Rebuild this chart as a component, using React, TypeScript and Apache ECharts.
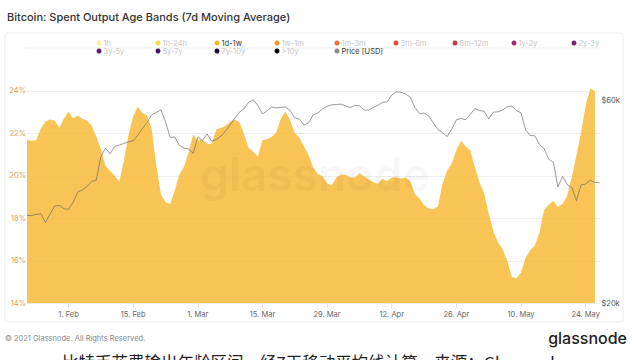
import React, { useEffect, useRef } from "react";
import * as echarts from "echarts";

// ---------- data ----------
const START_DATE = Date.UTC(2021, 0, 23);
const DAY_COUNT = 125; // 23 Jan 2021 .. 27 May 2021
const MONTHS = ["Jan", "Feb", "Mar", "Apr", "May", "Jun", "Jul", "Aug", "Sep", "Oct", "Nov", "Dec"];
const categories: string[] = [];
for (let i = 0; i < DAY_COUNT; i++) {
  const d = new Date(START_DATE + i * 86400000);
  categories.push(d.toISOString().slice(0, 10));
}

// Spent output share of the 1d-1w band, 7d MA (%)
const band1d1w: (number | null)[] = [
  21.7, 21.65, 21.68, 22.23, 22.56, 22.66, 22.6, 22.27, 22.7, 23.02,
  22.7, 22.85, 22.69, 22.61, 22.36, 21.86, 21.26, 20.48, 20.23, 20.01,
  19.72, 20.72, 21.94, 22.81, 23.26, 22.96, 22.84, 22.23, 20.5, 19.13,
  18.77, 18.67, 19.33, 20.05, 20.43, 21.1, 21.95, 21.67, 21.72, 21.52,
  21.5, 22.18, 22.26, 22.36, 22.55, 22.66, 22.53, 21.97, 21.33, 21.14,
  20.9, 21.69, 21.73, 21.83, 22.05, 22.7, 23.03, 22.6, 22.02, 21.8,
  21.39, 20.98, 20.4, 20.09, 19.98, 19.65, 19.55, 19.92, 20.05, 20.05,
  19.93, 19.92, 20.12, 19.99, 19.83, 19.7, 19.63, 19.87, 19.75, 19.92,
  19.94, 19.88, 19.93, 19.75, 19.15, 18.94, 18.63, 18.46, 18.44, 18.55,
  19.63, 20.24, 20.58, 21.22, 21.65, 21.4, 21.2, 20.43, 19.7, 19.2,
  18.23, 17.41, 16.87, 16.56, 16.0, 15.25, 15.17, 15.45, 16.16, 16.5,
  16.72, 17.33, 18.39, 18.64, 18.82, 18.53, 18.68, 19.06, 19.94, 20.95,
  22.04, 23.33, 24.12, 24.0, null,
];

// BTC price (thousand USD)
const priceK: number[] = [
  32.2, 32.2, 32.4, 32.5, 31.0, 32.5, 33.9, 34.0, 33.4, 33.3,
  34.6, 36.6, 37.0, 37.7, 38.7, 39.0, 44.3, 46.4, 45.0, 46.8,
  47.2, 47.6, 48.0, 48.3, 49.8, 51.6, 53.3, 55.6, 56.3, 57.1,
  53.5, 49.2, 49.3, 47.1, 46.4, 46.2, 45.1, 49.2, 48.4, 50.1,
  48.2, 48.6, 49.5, 50.9, 52.6, 54.6, 56.4, 57.4, 59.5, 60.3,
  58.5, 55.9, 56.8, 58.0, 57.7, 57.9, 58.0, 56.9, 54.7, 54.3,
  52.6, 53.2, 55.6, 56.1, 57.4, 58.2, 58.7, 58.8, 58.9, 58.4,
  57.8, 58.5, 58.4, 57.1, 57.0, 57.9, 58.5, 59.5, 59.6, 61.9,
  63.0, 62.8, 62.3, 61.2, 57.9, 56.0, 56.1, 55.3, 53.2, 51.3,
  50.5, 49.4, 51.5, 54.1, 54.5, 54.1, 55.7, 57.5, 56.9, 56.7,
  54.4, 56.4, 56.5, 57.0, 58.1, 58.3, 56.9, 56.2, 51.2, 49.7,
  49.6, 47.3, 46.3, 43.7, 43.0, 37.6, 39.8, 38.1, 37.5, 34.9,
  38.0, 38.2, 39.0, 38.5, 38.5,
];

const leftTicks = [14, 16, 18, 20, 22, 24];
const rightTickPrices = [20000, 60000];

const legendNames = [
  "1h", "1h-24h", "1d-1w", "1w-1m", "1m-3m", "3m-6m", "6m-12m", "1y-2y", "2y-3y",
  "3y-5y", "5y-7y", "7y-10y", ">10y", "Price [USD]",
];
const legendColors = [
  "#FBF29A", "#F6D84C", "#F7B52C", "#F8961E", "#F26B2A", "#E2483E", "#C7354B", "#A62767", "#7E1F7A",
  "#5E1A78", "#3F1468", "#1D0E36", "#000000", "#888888",
];
const activeNames = ["1d-1w", "Price [USD]"];

export default function App() {
  const ref = useRef<HTMLDivElement>(null);

  useEffect(() => {
    if (!ref.current) return;
    const chart = echarts.init(ref.current, null, { renderer: "svg" });
    const FONT = "Inter, 'Noto Sans', sans-serif";
    const labelEvery = (i: number) => (i - 9) % 14 === 0 && i >= 9;

    // legend in fixed columns of two rows
    const colCenters = [99, 158, 217, 277, 337, 396, 455, 514, 574];
    const legends = colCenters.map((cx, k) => {
      const names = [legendNames[k]];
      if (k + 9 < legendNames.length) names.push(legendNames[k + 9]);
      return {
        orient: "vertical",
        left: cx - 2.5,
        top: 39,
        padding: 0,
        itemGap: 0,
        itemWidth: 5,
        itemHeight: 5,
        icon: "circle",
        selectedMode: false,
        data: names.map((n) => ({
          name: n,
          textStyle: { color: activeNames.includes(n) ? "#333" : "#c6c6c6" },
        })),
        textStyle: { fontSize: 7.5, lineHeight: 8, fontFamily: FONT, padding: [0, 0, 0, -3] },
      };
    });

    const bandSeries = legendNames.map((n, idx) => {
      if (n === "1d-1w") {
        return {
          name: n,
          type: "line",
          yAxisIndex: 0,
          data: band1d1w,
          showSymbol: false,
          color: legendColors[idx],
          lineStyle: { width: 0 },
          areaStyle: { color: "#F7B52C", opacity: 0.8 },
          z: 2,
        };
      }
      if (n === "Price [USD]") {
        return {
          name: n,
          type: "line",
          yAxisIndex: 1,
          data: priceK.map((p) => Math.log10(p * 1000)),
          showSymbol: false,
          color: legendColors[idx],
          lineStyle: { width: 0.7, color: "#6e6e6e" },
          z: 3,
        };
      }
      return { name: n, type: "line", data: [], color: legendColors[idx], showSymbol: false };
    });

    chart.setOption({
      animation: false,
      title: {
        text: "Bitcoin: Spent Output Age Bands (7d Moving Average)",
        left: 2,
        top: 6,
        textStyle: { fontSize: 11, fontWeight: 500, color: "#333", fontFamily: FONT },
      },
      legend: legends,
      grid: { left: 27, right: 38.5, top: 84.6, bottom: 56.7, containLabel: false },
      xAxis: {
        type: "category",
        data: categories,
        boundaryGap: false,
        axisLine: { show: false },
        axisTick: { show: true, interval: (i: number) => labelEvery(i), length: 5, lineStyle: { color: "#e4e4e4" } },
        axisLabel: {
          interval: (i: number) => labelEvery(i),
          color: "#666",
          fontSize: 7.5,
          fontFamily: FONT,
          margin: 7,
          formatter: (v: string) => {
            const d = new Date(v + "T00:00:00Z");
            return `${d.getUTCDate()}. ${MONTHS[d.getUTCMonth()]}`;
          },
        },
        splitLine: { show: false },
      },
      yAxis: [
        {
          type: "value",
          min: leftTicks[0],
          max: 24.3,
          interval: 2,
          axisLine: { show: false },
          axisTick: { show: false },
          splitLine: { show: true, showMaxLine: false, lineStyle: { color: "#eeeeee", width: 1 } },
          axisLabel: {
            showMaxLabel: false,
            formatter: (v: number) => (leftTicks.includes(Math.round(v * 100) / 100) ? `${v}%` : ""),
            color: "#D9A25C",
            fontSize: 7.5,
            fontFamily: FONT,
            margin: 1,
            padding: [0, 0, 6, 0],
          },
        },
        {
          type: "value",
          min: Math.log10(20000),
          max: 4.8162,
          position: "right",
          axisLine: { show: false },
          axisTick: { show: false },
          splitLine: { show: false },
          axisLabel: {
            customValues: rightTickPrices.map((p) => Math.log10(p)),
            formatter: (v: number) => {
              const p = Math.pow(10, v);
              const k = Math.round(p / 1000);
              return k === 20 || k === 60 ? `$${k}k` : "";
            },
            color: "#555",
            fontSize: 7.5,
            fontFamily: FONT,
            margin: 2,
            padding: [0, 0, 6, 0],
          },
        },
      ],
      series: bandSeries,
      graphic: [
        {
          type: "rect",
          silent: true,
          z: -10,
          shape: { x: 5, y: 33, width: 618, height: 289, r: 3 },
          style: { fill: "none", stroke: "#ececec", lineWidth: 1 },
        },
        {
          type: "line",
          silent: true,
          z: -10,
          shape: { x1: 26, y1: 48, x2: 600, y2: 48 },
          style: { stroke: "#efefef", lineWidth: 1 },
        },
        {
          type: "text",
          silent: true,
          z: 100,
          style: {
            text: "glassnode",
            x: 315,
            y: 174,
            align: "center",
            verticalAlign: "middle",
            fontSize: 46,
            fontWeight: 600,
            fontFamily: FONT,
            fill: "rgba(0,0,0,0.045)",
          },
        },
        {
          type: "text",
          silent: true,
          style: {
            text: "© 2021 Glassnode. All Rights Reserved.",
            x: 5,
            y: 338,
            verticalAlign: "middle",
            fontSize: 7.5,
            fontFamily: FONT,
            fill: "#888",
          },
        },
        {
          type: "text",
          silent: true,
          style: {
            text: "glassnode",
            x: 627,
            y: 338,
            align: "right",
            verticalAlign: "middle",
            fontSize: 16,
            fontWeight: 500,
            fontFamily: FONT,
            fill: "#222",
          },
        },
        {
          type: "text",
          silent: true,
          style: {
            text: "比特币花费输出年龄区间，经7天移动平均线计算，来源：Glassnode",
            x: 62,
            y: 354,
            verticalAlign: "top",
            fontSize: 16.5,
            fontFamily: "'Noto Sans CJK SC', sans-serif",
            fill: "#222",
          },
        },
      ],
    });

    return () => chart.dispose();
  }, []);

  return (
    <div
      ref={ref}
      style={{ position: "absolute", left: 0, top: 0, width: 638, height: 360, background: "#fff" }}
    />
  );
}
